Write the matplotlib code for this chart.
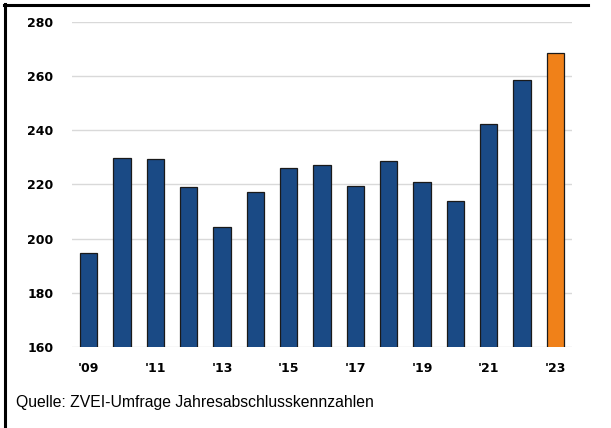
import matplotlib.pyplot as plt
from matplotlib.lines import Line2D

# data
years = ["'09", "'10", "'11", "'12", "'13", "'14", "'15", "'16",
         "'17", "'18", "'19", "'20", "'21", "'22", "'23"]
values = [194.6, 229.7, 229.4, 219.0, 204.4, 217.3, 226.1, 227.1,
          219.4, 228.7, 220.8, 213.8, 242.4, 258.7, 268.4]
yticks = [160, 180, 200, 220, 240, 260, 280]
source = "Quelle: ZVEI-Umfrage Jahresabschlusskennzahlen"

blue = '#1a4a85'
orange = '#f08119'
colors = [blue] * (len(values) - 1) + [orange]

fig = plt.figure(figsize=(6.11, 4.28), dpi=100)
ax = fig.add_axes([0.1178, 0.1893, 0.8184, 0.7593])

x = list(range(len(years)))
ax.bar(x, values, width=0.52, color=colors, edgecolor='#1a1a1a',
       linewidth=0.9, zorder=3)

ax.set_ylim(160, 280)
ax.set_xlim(-0.5, len(years) - 0.5)
ax.set_yticks(yticks)
ax.set_yticklabels([str(t) for t in yticks], fontweight='bold', fontsize=9)
ax.set_xticks(x[::2])
ax.set_xticklabels(years[::2], fontweight='bold', fontsize=9)
ax.tick_params(length=0)
ax.tick_params(axis='y', pad=13.5)
ax.tick_params(axis='x', pad=10.5)

ax.grid(axis='y', color='#d9d9d9', linewidth=1.0, zorder=0)
for s in ax.spines.values():
    s.set_visible(False)

# frame lines at left and top of the picture
fig.add_artist(Line2D([0.008, 0.008], [0, 0.99], transform=fig.transFigure,
                      color='black', linewidth=2.2))
fig.add_artist(Line2D([0.006, 0.962], [0.988, 0.988], transform=fig.transFigure,
                      color='black', linewidth=2.2))

fig.text(0.027, 0.059, source, fontsize=11.3, family='Liberation Sans',
         va='center', ha='left')

fig.savefig('out.png', dpi=100)
